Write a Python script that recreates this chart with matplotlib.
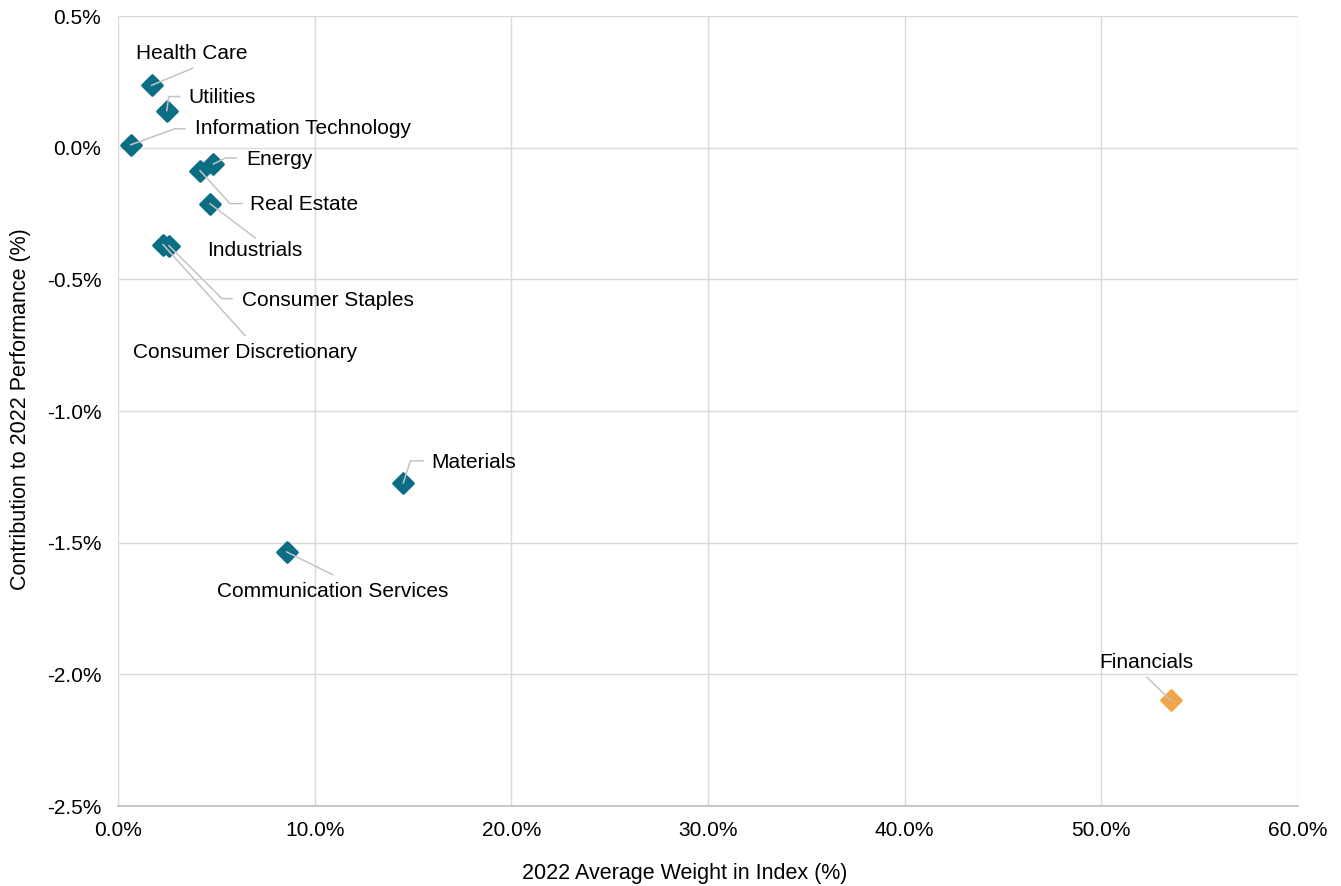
import numpy as np
import matplotlib
matplotlib.use("Agg")
import matplotlib.pyplot as plt
from matplotlib.markers import MarkerStyle
from matplotlib.lines import Line2D
from matplotlib.transforms import IdentityTransform
from matplotlib.ticker import FuncFormatter, MultipleLocator

plt.rcParams['font.family'] = ['Liberation Sans', 'DejaVu Sans']

# Sector data: 2022 average index weight (%) and contribution to performance (%)
sectors = ["Health Care", "Utilities", "Information Technology", "Energy",
           "Real Estate", "Industrials", "Consumer Staples",
           "Consumer Discretionary", "Materials", "Communication Services",
           "Financials"]
weight = [1.71, 2.48, 0.65, 4.85, 4.17, 4.68, 2.59, 2.29, 14.51, 8.58, 53.54]
contribution = [0.237, 0.141, 0.011, -0.062, -0.087, -0.213, -0.372, -0.368,
                -1.273, -1.535, -2.099]

teal = "#0B6E84"
orange = "#F0A64A"
colors = [orange if s == "Financials" else teal for s in sectors]

# Label placement (pixel offsets from the point, y up) and leader vertices
label_style = {
    "Health Care":            ((40, 32), "center", [(0, 0), (41, 17)]),
    "Utilities":              ((22, 13), "left",   [(0, 0), (2, 14), (13, 14)]),
    "Information Technology": ((64, 16), "left",   [(0, 0), (44, 16), (54, 16)]),
    "Energy":                 ((33, 4),  "left",   [(0, 0), (12, 6), (23, 6)]),
    "Real Estate":            ((50, -34), "left",  [(0, 0), (30, -33), (42, -33)]),
    "Industrials":            ((45, -47), "center", [(0, 0), (45, -34)]),
    "Consumer Staples":       ((73, -55), "left",  [(0, 0), (53, -53), (63, -53)]),
    "Consumer Discretionary": ((82, -108), "center", [(0, 0), (82, -91)]),
    "Materials":              ((28, 20), "left",   [(0, 0), (7, 22), (20, 22)]),
    "Communication Services": ((46, -40), "center", [(0, 0), (46, -23)]),
    "Financials":             ((-25, 38), "center", [(0, 0), (-24, 23)]),
}

fig = plt.figure(figsize=(13.41, 8.86), dpi=100)
ax = fig.add_axes([118 / 1341, 1 - 806 / 886, 1180 / 1341, 790 / 886])

ax.set_xlim(0, 60)
ax.set_ylim(-2.5, 0.5)
ax.xaxis.set_major_locator(MultipleLocator(10))
ax.yaxis.set_major_locator(MultipleLocator(0.5))
ax.xaxis.set_major_formatter(FuncFormatter(lambda v, p: f"{v:.1f}%"))
ax.yaxis.set_major_formatter(FuncFormatter(lambda v, p: f"{v:.1f}%"))

ax.grid(True, color="#D9D9D9", linewidth=1.0)
ax.set_axisbelow(True)
for side in ("top", "right", "left"):
    ax.spines[side].set_visible(False)
ax.spines["bottom"].set_color("#BFBFBF")
ax.spines["bottom"].set_linewidth(1.2)
ax.tick_params(length=0, labelsize=15, colors="black")
ax.tick_params(axis="y", pad=12)
ax.tick_params(axis="x", pad=11)

ax.set_xlabel("2022 Average Weight in Index (%)", fontsize=15.5)
ax.set_ylabel("Contribution to 2022 Performance (%)", fontsize=15.5)
ax.xaxis.set_label_coords(0.4805, -0.072)
ax.yaxis.set_label_coords(-0.074, 0.503)

marker = MarkerStyle("D", joinstyle="round")
for x, y, c in zip(weight, contribution, colors):
    ax.plot([x], [y], linestyle="none", marker=marker, markersize=10,
            markerfacecolor=c, markeredgecolor=c, markeredgewidth=2, zorder=3)

for name, x, y in zip(sectors, weight, contribution):
    (tdx, tdy), ha, verts = label_style[name]
    px, py = ax.transData.transform((x, y))
    vx = [px + dx for dx, dy in verts]
    vy = [py + dy for dx, dy in verts]
    ax.add_artist(Line2D(vx, vy, transform=IdentityTransform(),
                         color="#C4C4C4", linewidth=1.1, zorder=4))
    ax.annotate(name, (x, y), xytext=(tdx, tdy), textcoords="offset pixels",
                ha=ha, va="center", fontsize=15, zorder=5)

fig.savefig("out.png", dpi=100)
